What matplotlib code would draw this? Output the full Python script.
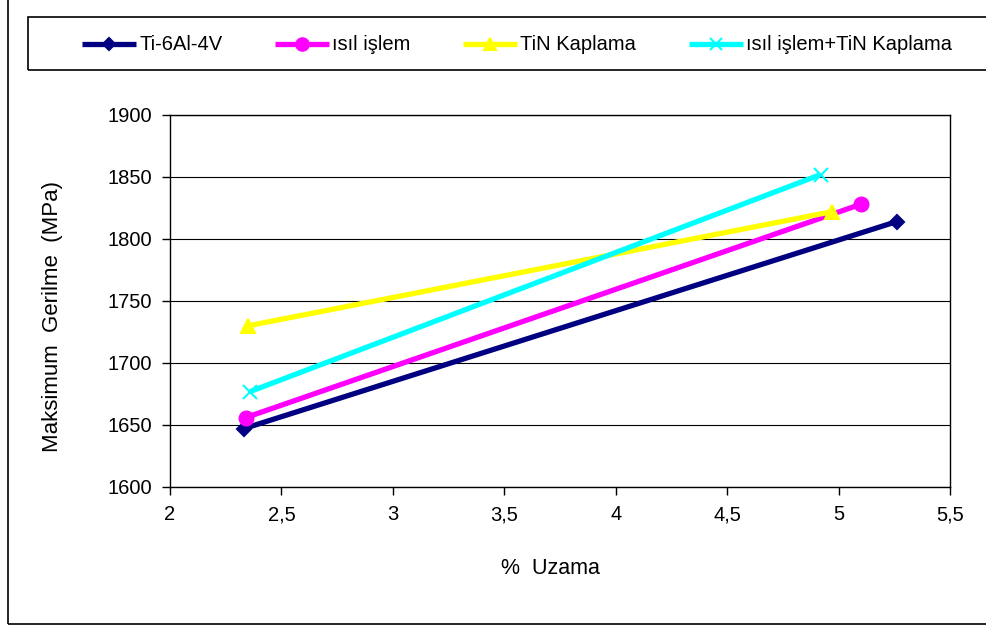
import matplotlib.pyplot as plt
from matplotlib.lines import Line2D
from matplotlib.patches import Rectangle
from matplotlib.ticker import FuncFormatter

plt.rcParams['font.family'] = ['Liberation Sans', 'DejaVu Sans']

# data
series_names = ['Ti-6Al-4V', 'ısıl işlem', 'TiN Kaplama', 'ısıl işlem+TiN Kaplama']
uzama = [[2.33, 5.26], [2.34, 5.10], [2.35, 4.97], [2.36, 4.92]]
gerilme = [[1647, 1814], [1656, 1828], [1730, 1822], [1677, 1852]]
colors = ['#000080', '#FF00FF', '#FFFF00', '#00FFFF']
markers = ['D', 'o', '^', 'x']
msizes = [7, 10, 10, 10]

x_ticks = [2, 2.5, 3, 3.5, 4, 4.5, 5, 5.5]
y_ticks = [1600, 1650, 1700, 1750, 1800, 1850, 1900]

fig = plt.figure(figsize=(9.86, 6.25), dpi=100)
ax = fig.add_axes([170/986, 1 - 487/625, 780/986, 372/625])

for i in range(len(series_names)):
    ax.plot(uzama[i], gerilme[i], color=colors[i], lw=3.8, marker=markers[i],
            ms=msizes[i], mew=1.5, solid_capstyle='butt', zorder=3)

ax.set_xlim(2, 5.5)
ax.set_ylim(1600, 1900)
ax.set_xticks(x_ticks)
ax.set_yticks(y_ticks)
ax.xaxis.set_major_formatter(FuncFormatter(lambda v, p: ('%g' % v).replace('.', ',')))
ax.tick_params(direction='out', length=6, width=1, labelsize=14.5, pad=7)
ax.yaxis.grid(True, color='black', lw=0.8)
ax.set_axisbelow(True)
for s in ax.spines.values():
    s.set_linewidth(1)
    s.set_color('black')

ax.set_xlabel('%  Uzama', fontsize=15.5)
ax.set_ylabel('Maksimum  Gerilme  (MPa)', fontsize=16)
ax.xaxis.set_label_coords(0.488, -0.19)
ax.yaxis.set_label_coords(-0.137, 0.457)

# outer frame and legend box
fig.add_artist(Rectangle((8/986, 1/625), 1.2, 1.2, transform=fig.transFigure,
                         fill=False, ec='black', lw=1.2))
fig.add_artist(Rectangle((28/986, 1 - 70/625), 1.2, 53/625, transform=fig.transFigure,
                         fill=False, ec='black', lw=1.2))

handle_x = [82, 275, 463, 689]
yl = 1 - 44/625
for i in range(len(series_names)):
    x0 = handle_x[i]
    fig.add_artist(Line2D([x0/986, (x0 + 54)/986], [yl, yl], transform=fig.transFigure,
                          color=colors[i], lw=3.8, solid_capstyle='butt'))
    fig.add_artist(Line2D([(x0 + 27)/986], [yl], transform=fig.transFigure,
                          color=colors[i], marker=markers[i], ms=msizes[i] - 1, mew=1.5))
    fig.text((x0 + 57)/986, yl, series_names[i], fontsize=14.5, va='center', ha='left')

fig.savefig('out.png', dpi=100)
